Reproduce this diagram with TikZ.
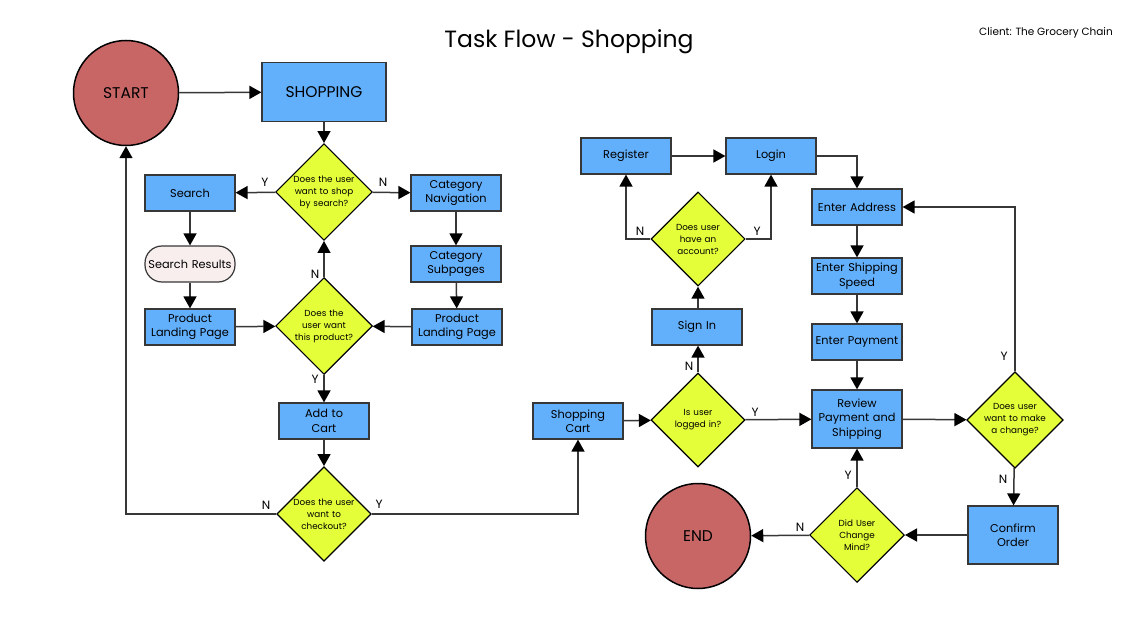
\documentclass[tikz,border=0pt]{standalone}
\usepackage{fontspec}
\setmainfont{Poppins}
\usepackage{tikz}
\usetikzlibrary{shapes.geometric,arrows.meta}
\definecolor{boxblue}{RGB}{98,175,252}
\definecolor{decyellow}{RGB}{228,255,58}
\definecolor{endred}{RGB}{200,102,102}
\definecolor{resultpink}{RGB}{248,238,238}
\definecolor{linegray}{RGB}{55,55,55}

\begin{document}
\begin{tikzpicture}[x=1pt,y=-1pt,
  task/.style={draw=linegray,line width=1.2pt,fill=boxblue,minimum width=89pt,minimum height=36pt,
    text width=88pt,align=center,inner sep=1pt,font=\fontsize{11.3}{14.5}\selectfont},
  bigtask/.style={task,minimum height=58pt},
  decision/.style={diamond,draw=black,line width=1.2pt,fill=decyellow,minimum width=94pt,minimum height=94pt,
    inner sep=0pt,text width=64pt,align=center,font=\fontsize{8.8}{12}\selectfont},
  terminal/.style={circle,draw=black,line width=1.5pt,fill=endred,minimum size=105pt,font=\fontsize{15.5}{18}\selectfont},
  result/.style={task,rounded corners=17pt,fill=resultpink},
  yn/.style={font=\fontsize{12}{14}\selectfont,inner sep=0pt},
  flow/.style={draw=linegray,line width=1.5pt,-{Triangle[length=12pt,width=13pt,color=black]}}]
  \useasboundingbox (0,0) rectangle (1134,631);

  \node (title) at (569,42) {\fontsize{23.5}{28}\selectfont Task Flow - Shopping};
  \node (client) at (1046,33) {\fontsize{10.5}{12}\selectfont Client: The Grocery Chain};

  \node[terminal] (start) at (126,93) {START};
  \node[task,minimum width=124pt,text width=120pt,minimum height=59pt,font=\fontsize{15.5}{18}\selectfont] (shop) at (324,92) {SHOPPING};
  \node[decision] (shopq) at (324,192) {Does the user\\want to shop\\by search?};
  \node[task] (search) at (190,193) {Search};
  \node[result] (results) at (190,264) {Search Results};
  \node[task] (landa) at (190,327) {Product\\Landing Page};
  \node[task] (catnav) at (456,193) {Category\\Navigation};
  \node[task] (catsub) at (456,264) {Category\\Subpages};
  \node[task] (landb) at (457,327) {Product\\Landing Page};
  \node[decision] (wantq) at (324,326) {Does the\\user want\\this product?};
  \node[task] (addcart) at (324,421) {Add to\\Cart};
  \node[decision] (checkq) at (324,514) {Does the user\\want to\\checkout?};

  \node[task] (cart) at (578,421) {Shopping\\Cart};
  \node[decision] (loggedq) at (698,420) {Is user\\logged in?};
  \node[task] (signin) at (697,327) {Sign In};
  \node[decision] (accountq) at (698,239) {Does user\\have an\\account?};
  \node[task] (register) at (626,156) {Register};
  \node[task] (login) at (771,156) {Login};

  \node[task] (address) at (857,207) {Enter Address};
  \node[task] (speed) at (857,276) {Enter Shipping\\Speed};
  \node[task] (payment) at (857,342) {Enter Payment};
  \node[bigtask] (review) at (857,419) {Review\\Payment and\\Shipping};
  \node[decision] (changeq) at (1015,420) {Does user\\want to make\\a change?};
  \node[bigtask] (confirm) at (1013,535) {Confirm\\Order};
  \node[decision] (mindq) at (857,535) {Did User\\Change\\Mind?};
  \node[terminal] (end) at (698,536) {END};

  \node[yn] (y1) at (265,182) {Y};
  \node[yn] (n1) at (383,182) {N};
  \node[yn] (n2) at (315,274) {N};
  \node[yn] (y2) at (315,379) {Y};
  \node[yn] (n3) at (266,505) {N};
  \node[yn] (y3) at (379,504) {Y};
  \node[yn] (n4) at (640,231) {N};
  \node[yn] (y4) at (757,231) {Y};
  \node[yn] (n5) at (689,366) {N};
  \node[yn] (y5) at (755,412) {Y};
  \node[yn] (y6) at (1004,356) {Y};
  \node[yn] (n6) at (1003,479) {N};
  \node[yn] (y7) at (848,475) {Y};
  \node[yn] (n7) at (800,527) {N};

  \draw[flow] (start) -- (shop);
  \draw[flow] (shop) -- (shopq);
  \draw[flow] (shopq) -- (search);
  \draw[flow] (shopq) -- (catnav);
  \draw[flow] (search) -- (results);
  \draw[flow] (results) -- (landa);
  \draw[flow] (catnav) -- (catsub);
  \draw[flow] (catsub) -- (landb);
  \draw[flow] (landa) -- (wantq);
  \draw[flow] (landb) -- (wantq);
  \draw[flow] (wantq) -- (shopq);
  \draw[flow] (wantq) -- (addcart);
  \draw[flow] (addcart) -- (checkq);
  \draw[flow] (checkq.west) -| (start.south);
  \draw[flow] (checkq.east) -| (cart.south);
  \draw[flow] (cart) -- (loggedq);
  \draw[flow] (loggedq.north) -- (loggedq.north |- signin.south);
  \draw[flow] (loggedq) -- (review);
  \draw[flow] (accountq.south |- signin.north) -- (accountq.south);
  \draw[flow] (accountq.west) -| (register.south);
  \draw[flow] (accountq.east) -| (login.south);
  \draw[flow] (register) -- (login);
  \draw[flow] (login.east) -| (address.north);
  \draw[flow] (address) -- (speed);
  \draw[flow] (speed) -- (payment);
  \draw[flow] (payment) -- (review);
  \draw[flow] (review) -- (changeq);
  \draw[flow] (changeq.north) |- (address.east);
  \draw[flow] (changeq) -- (confirm);
  \draw[flow] (confirm) -- (mindq);
  \draw[flow] (mindq) -- (review);
  \draw[flow] (mindq) -- (end);
\end{tikzpicture}
\end{document}
